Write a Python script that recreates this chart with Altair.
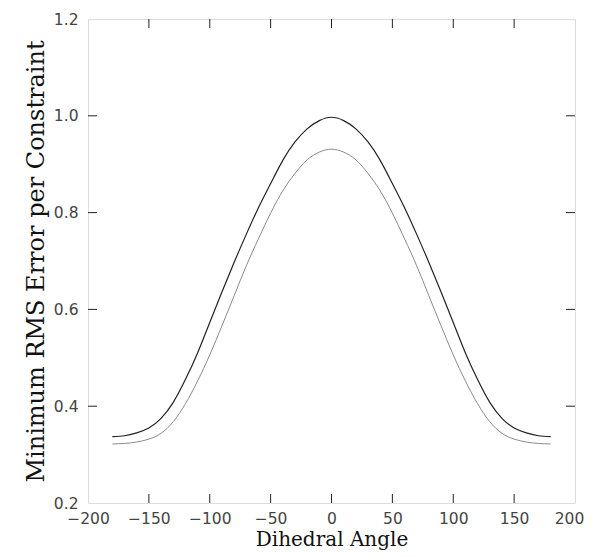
import altair as alt
import pandas as pd

# Dihedral angle samples (degrees)
angles = [-180, -170, -160, -150, -140, -130, -120, -110, -100, -90, -80, -70, -60, -50, -40, -30, -20, -10,
          0, 10, 20, 30, 40, 50, 60, 70, 80, 90, 100, 110, 120, 130, 140, 150, 160, 170, 180]

upper = [0.337, 0.339, 0.345, 0.355, 0.375, 0.408, 0.455, 0.510, 0.573, 0.636, 0.697, 0.755, 0.810, 0.860,
         0.908, 0.946, 0.973, 0.990,
         0.997,
         0.990, 0.973, 0.946, 0.908, 0.860, 0.810, 0.755, 0.697, 0.636, 0.573, 0.510, 0.455, 0.408, 0.375,
         0.355, 0.345, 0.339, 0.337]

lower = [0.322, 0.323, 0.326, 0.332, 0.344, 0.368, 0.405, 0.452, 0.506, 0.566, 0.628, 0.690, 0.746, 0.799,
         0.845, 0.881, 0.909, 0.925,
         0.931,
         0.925, 0.909, 0.881, 0.845, 0.799, 0.746, 0.690, 0.628, 0.566, 0.506, 0.452, 0.405, 0.368, 0.344,
         0.332, 0.326, 0.323, 0.322]

x_label_values = [-200, -150, -100, -50, 0, 50, 100, 150, 200]
y_label_values = [0.2, 0.4, 0.6, 0.8, 1.0, 1.2]
x_tick_values = [-150, -100, -50, 0, 50, 100, 150]
y_tick_values = [0.4, 0.6, 0.8, 1.0]

W, H = 487, 484

rows = []
for a, u, l in zip(angles, upper, lower):
    rows.append({"angle": a, "value": u, "series": "upper"})
    rows.append({"angle": a, "value": l, "series": "lower"})
df = pd.DataFrame(rows)

xscale = alt.Scale(domain=[-200, 200], nice=False, zero=False)
yscale = alt.Scale(domain=[0.2, 1.2], nice=False, zero=False)

label_font = "DejaVu Sans"
title_font = "DejaVu Serif"

xaxis = alt.Axis(
    values=x_label_values,
    labelExpr="datum.value < 0 ? '\u2212' + format(-datum.value, 'd') + '\u2007' : format(datum.value, 'd')",
    labelOffset={"condition": {"test": "datum.value >= 200", "value": -6}, "value": 0},
    title="Dihedral Angle",
    domain=False, ticks=False, grid=False,
    labelFont=label_font, labelFontSize=15.5, labelColor="#444", labelPadding=8,
    labelFlush=False, labelOverlap=False,
    titleFont=title_font, titleFontSize=20, titleFontWeight="normal", titleColor="#111",
    titlePadding=3,
)
yaxis = alt.Axis(
    values=y_label_values, format=".1f",
    title="Minimum RMS Error per Constraint",
    domain=False, ticks=False, grid=False,
    labelFont=label_font, labelFontSize=15.5, labelColor="#444", labelPadding=10,
    labelFlush=False, labelOverlap=False,
    titleFont=title_font, titleFontSize=24, titleFontWeight="normal", titleColor="#111",
    titlePadding=5,
)

x_enc = alt.X("angle:Q", scale=xscale, axis=xaxis)
y_enc = alt.Y("value:Q", scale=yscale, axis=yaxis)

upper_line = alt.Chart(df).transform_filter("datum.series == 'upper'").mark_line(
    color="#222", strokeWidth=1.2, interpolate="natural"
).encode(x=x_enc, y=y_enc)

lower_line = alt.Chart(df).transform_filter("datum.series == 'lower'").mark_line(
    color="#8a8a8a", strokeWidth=1.0, interpolate="natural"
).encode(x=x_enc, y=y_enc)

dfx = pd.DataFrame({"angle": x_tick_values})
dfy = pd.DataFrame({"value": y_tick_values})

tick_len = 9
bottom_ticks = alt.Chart(dfx).mark_rule(color="#222", strokeWidth=1).encode(
    x=x_enc, y=alt.value(H), y2=alt.value(H - tick_len))
top_ticks = alt.Chart(dfx).mark_rule(color="#222", strokeWidth=1).encode(
    x=x_enc, y=alt.value(0), y2=alt.value(tick_len))
left_ticks = alt.Chart(dfy).mark_rule(color="#222", strokeWidth=1).encode(
    y=y_enc, x=alt.value(0), x2=alt.value(tick_len))
right_ticks = alt.Chart(dfy).mark_rule(color="#222", strokeWidth=1).encode(
    y=y_enc, x=alt.value(W - tick_len), x2=alt.value(W))

chart = alt.layer(
    bottom_ticks, top_ticks, left_ticks, right_ticks, lower_line, upper_line
).properties(
    width=W, height=H,
    autosize=alt.AutoSizeParams(type="none"),
    padding={"left": 80, "top": 11, "right": 9, "bottom": 47},
).configure_view(
    stroke="#222", strokeWidth=1
).configure(background="white")

chart.save("out.html", embed_options={"renderer": "svg", "actions": False})
